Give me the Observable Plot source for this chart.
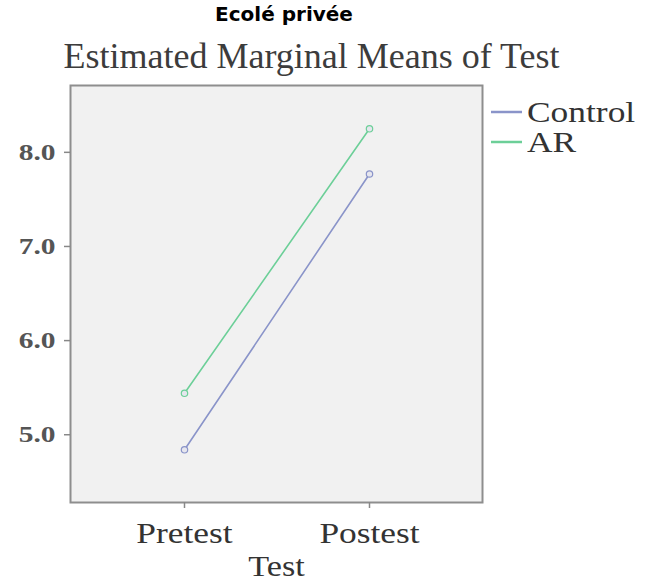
<!DOCTYPE html>
<html><head><meta charset="utf-8">
<script src="https://cdn.jsdelivr.net/npm/d3@7"></script>
<script src="https://cdn.jsdelivr.net/npm/@observablehq/plot@0.6"></script>
<style>
body{margin:0;background:#fff;}
#wrap{position:relative;width:645px;}
#head{position:relative;height:80px;}
#sup{position:absolute;left:0;top:2px;width:568px;text-align:center;font:bold 20px "DejaVu Sans",sans-serif;color:#000;}
#title{position:absolute;left:0;top:35px;width:623px;text-align:center;font:36px "Liberation Serif",serif;color:#3c3c3c;white-space:nowrap;}
#legend{position:absolute;left:491px;top:97px;font:30px "Liberation Serif",serif;color:#333;}
#legend .row{display:flex;align-items:center;height:30px;}
#legend svg{margin-right:5px;}
#legend span{display:inline-block;transform:scaleX(1.18);transform-origin:left center;}
</style></head>
<body>
<div id="wrap">
<div id="head"><div id="sup">Ecolé privée</div><div id="title">Estimated Marginal Means of Test</div></div>
<div id="chart"></div>
<div id="legend"></div>
</div>
<script>
const tests = ["Pretest", "Postest"];
const groups = ["Control", "AR"];
const controlMeans = [4.84, 7.77];
const arMeans = [5.44, 8.25];
const yTicks = [5, 6, 7, 8];
const groupColors = ["#8a94c9", "#6ccf98"];

const seriesValues = [controlMeans, arMeans];
const rows = groups.flatMap((g, gi) => tests.map((t, ti) => ({group: g, test: t, mean: seriesValues[gi][ti]})));

const serif = "Liberation Serif";
const chart = Plot.plot({
  width: 645,
  height: 503,
  marginTop: 5,
  marginLeft: 70,
  marginRight: 163,
  marginBottom: 81,
  style: {background: "transparent", overflow: "visible"},
  x: {type: "point", domain: tests, padding: 0.61, label: null},
  y: {domain: [4.28, 8.71], label: null},
  color: {domain: groups, range: groupColors},
  marks: [
    Plot.frame({fill: "#f1f1f1", stroke: null}),
    Plot.line(rows, {x: "test", y: "mean", z: "group", stroke: "group", strokeWidth: 1.6}),
    Plot.dot(rows, {x: "test", y: "mean", stroke: "group", fill: "#e6e6ee", r: 3.2, strokeWidth: 1.2}),
    Plot.frame({stroke: "#8e8e8e", strokeWidth: 2}),
    Plot.axisY(yTicks, {tickFormat: d => d.toFixed(1), tickSize: 6, tickPadding: 9, fontSize: 23, fontWeight: "bold", fontFamily: serif, fill: "#555", stroke: "#888", strokeWidth: 1.5, label: null}),
    Plot.axisX(tests, {tickSize: 6, tickPadding: 14, fontSize: 29, fontFamily: serif, fill: "#333", stroke: "#888", strokeWidth: 1.5, label: null}),
    Plot.text(["Test"], {frameAnchor: "bottom", dy: 73, fontSize: 30, fontFamily: serif, fill: "#333"})
  ]
});
document.getElementById("chart").appendChild(chart);

// horizontally widen the serif labels as in the reference rendering
const stretch = (sel, f) => chart.querySelectorAll(sel).forEach(t => {
  const L = t.getComputedTextLength();
  t.setAttribute("textLength", L * f);
  t.setAttribute("lengthAdjust", "spacingAndGlyphs");
});
stretch('g[aria-label="y-axis tick label"] text', 1.28);
stretch('g[aria-label="x-axis tick label"] text', 1.22);
stretch('g[aria-label="text"] text', 1.14);

const legend = document.getElementById("legend");
groups.forEach((g, i) => {
  const row = document.createElement("div");
  row.className = "row";
  row.innerHTML = `<svg width="31" height="4"><line x1="0" x2="31" y1="2" y2="2" stroke="${groupColors[i]}" stroke-width="2.5"/></svg><span>${g}</span>`;
  legend.appendChild(row);
});
</script>
</body></html>
